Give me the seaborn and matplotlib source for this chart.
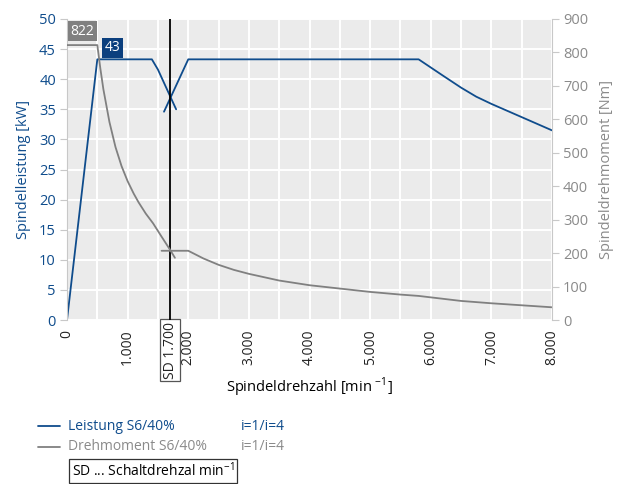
import matplotlib
matplotlib.use("Agg")
import matplotlib.pyplot as plt
import matplotlib.transforms as mtransforms
from matplotlib.lines import Line2D
from matplotlib.ticker import MultipleLocator, FuncFormatter
import pandas as pd
import seaborn as sns

# Spindle power [kW], low gear (i=4) and high gear (i=1)
power_low_rpm = [0, 500, 1400, 1500, 1800]
power_low_kw = [0, 43.3, 43.3, 41.6, 35.0]
power_high_rpm = [1600, 2000, 5800, 6200, 6500, 6750, 7000, 7500, 8000]
power_high_kw = [34.6, 43.3, 43.3, 40.6, 38.6, 37.1, 35.9, 33.7, 31.5]

# Spindle torque [Nm], low gear and high gear
torque_low_rpm = [0, 500, 550, 600, 700, 800, 900, 1000, 1100, 1180, 1300, 1420, 1550, 1700, 1780]
torque_low_nm = [822, 822, 752, 690, 592, 517, 460, 415, 378, 352, 318, 289, 252, 210, 186]
torque_high_rpm = [1560, 2000, 2250, 2500, 2750, 3000, 3500, 4000, 4500, 5000, 5500, 5800, 6500, 7000, 7500, 8000]
torque_high_nm = [207, 207, 184, 165, 150, 138, 118, 104, 94, 84, 76, 72, 57, 50, 44, 38]

shift_rpm = 1700
peak_torque = 822
peak_power = 43

x_ticks = [0, 1000, 2000, 3000, 4000, 5000, 6000, 7000, 8000]
kw_ticks = [0, 5, 10, 15, 20, 25, 30, 35, 40, 45, 50]
nm_ticks = [0, 100, 200, 300, 400, 500, 600, 700, 800, 900]

BLUE = "#0f4c8c"
BLUE_DARK = "#0b3f7e"
GRAY = "#808080"
GRAY_TXT = "#8a8a8a"
SPINE = "#c8c8c8"

sns.set_theme(style="darkgrid", rc={"axes.facecolor": "#ebebeb", "grid.color": "white",
                                    "grid.linewidth": 1.4})
plt.rcParams["font.family"] = ["Open Sans", "DejaVu Sans"]

W, H = 620, 484
FS = 10
fig = plt.figure(figsize=(W / 100, H / 100), dpi=100)
fig.patch.set_facecolor("white")
ax = fig.add_axes([67 / W, 1 - 320 / H, (552 - 67) / W, (320 - 19) / H])
ax2 = ax.twinx()

lw = 1.3
sns.lineplot(x=power_low_rpm, y=power_low_kw, ax=ax, color=BLUE, lw=lw, sort=False, estimator=None)
sns.lineplot(x=power_high_rpm, y=power_high_kw, ax=ax, color=BLUE, lw=lw, sort=False, estimator=None)
sns.lineplot(x=torque_low_rpm, y=torque_low_nm, ax=ax2, color=GRAY, lw=lw, sort=False, estimator=None)
sns.lineplot(x=torque_high_rpm, y=torque_high_nm, ax=ax2, color=GRAY, lw=lw, sort=False, estimator=None)

ax.set_xlim(0, 8000)
ax.set_ylim(0, 50)
ax2.set_ylim(0, 900)

ax.set_xticks(x_ticks)
ax.xaxis.set_minor_locator(MultipleLocator(500))
ax.set_yticks(kw_ticks)
ax2.set_yticks(nm_ticks)
ax.xaxis.set_major_formatter(FuncFormatter(lambda v, p: f"{int(v):,}".replace(",", ".")))
ax.grid(which="both", color="white", lw=1.4)
ax2.grid(False)
for a in (ax, ax2):
    for s in a.spines.values():
        s.set_visible(False)
ax.spines["left"].set_visible(True)
ax.spines["left"].set_color(SPINE)
ax.spines["left"].set_linewidth(0.8)
ax2.spines["right"].set_visible(True)
ax2.spines["right"].set_color(SPINE)
ax2.spines["right"].set_linewidth(0.8)

ax.tick_params(axis="x", which="both", bottom=False, labelsize=FS, labelcolor="#222222",
               labelrotation=90, pad=1)
ax.tick_params(axis="y", left=True, length=5, width=0.8, color=SPINE,
               labelcolor=BLUE, labelsize=10.5, pad=3)
ax2.tick_params(axis="y", right=True, length=5, width=0.8, color=SPINE,
                labelcolor=GRAY_TXT, labelsize=10.5, pad=3)

ax.set_ylabel("Spindelleistung [kW]", color=BLUE, fontsize=10.5, labelpad=6)
ax2.set_ylabel("Spindeldrehmoment [Nm]", color=GRAY_TXT, fontsize=10.5, labelpad=8)
ax.set_xlabel("")

# shift speed marker
ax.axvline(shift_rpm, color="black", lw=1.3, zorder=5)
trans = mtransforms.blended_transform_factory(ax.transData, ax.transAxes)
ax.text(shift_rpm, -0.005, f"SD {shift_rpm:,}".replace(",", "."), transform=trans,
        rotation=90, ha="center", va="top", fontsize=FS, color="#222222",
        bbox=dict(boxstyle="square,pad=0.15", fc="white", ec="#555555", lw=0.9))

# peak value labels
ax2.text(253, 864, f"{peak_torque}", color="white", fontsize=FS, ha="center", va="center",
         bbox=dict(boxstyle="square,pad=0.18", fc=GRAY, ec="none"), zorder=6)
ax.text(751, 45.2, f"{peak_power}", color="white", fontsize=FS, ha="center", va="center",
        bbox=dict(boxstyle="square,pad=0.2", fc=BLUE_DARK, ec="none"), zorder=6)

fig.text(309 / W, 1 - 387 / H, r"Spindeldrehzahl [min $^{\mathregular{-1}}$]",
         ha="center", va="center", fontsize=10.5, color="black")

# legend block
def fy(y):
    return 1 - y / H

for y, col, name in [(426, BLUE, "Leistung S6/40%"), (447, GRAY_TXT, "Drehmoment S6/40%")]:
    lc = BLUE if col == BLUE else GRAY
    fig.add_artist(Line2D([38 / W, 60 / W], [fy(y), fy(y)], color=lc, lw=1.3))
    fig.text(68 / W, fy(y), name, color=col, fontsize=FS, va="center", ha="left")
    fig.text(241 / W, fy(y), "i=1/i=4", color=col, fontsize=FS, va="center", ha="left")

fig.text(72 / W, fy(471), r"SD ... Schaltdrehzal min$^{\mathregular{-1}}$", color="black",
         fontsize=FS, va="center", ha="left",
         bbox=dict(boxstyle="square,pad=0.2", fc="white", ec="#333333", lw=0.9))

fig.savefig("out.png", dpi=100)
